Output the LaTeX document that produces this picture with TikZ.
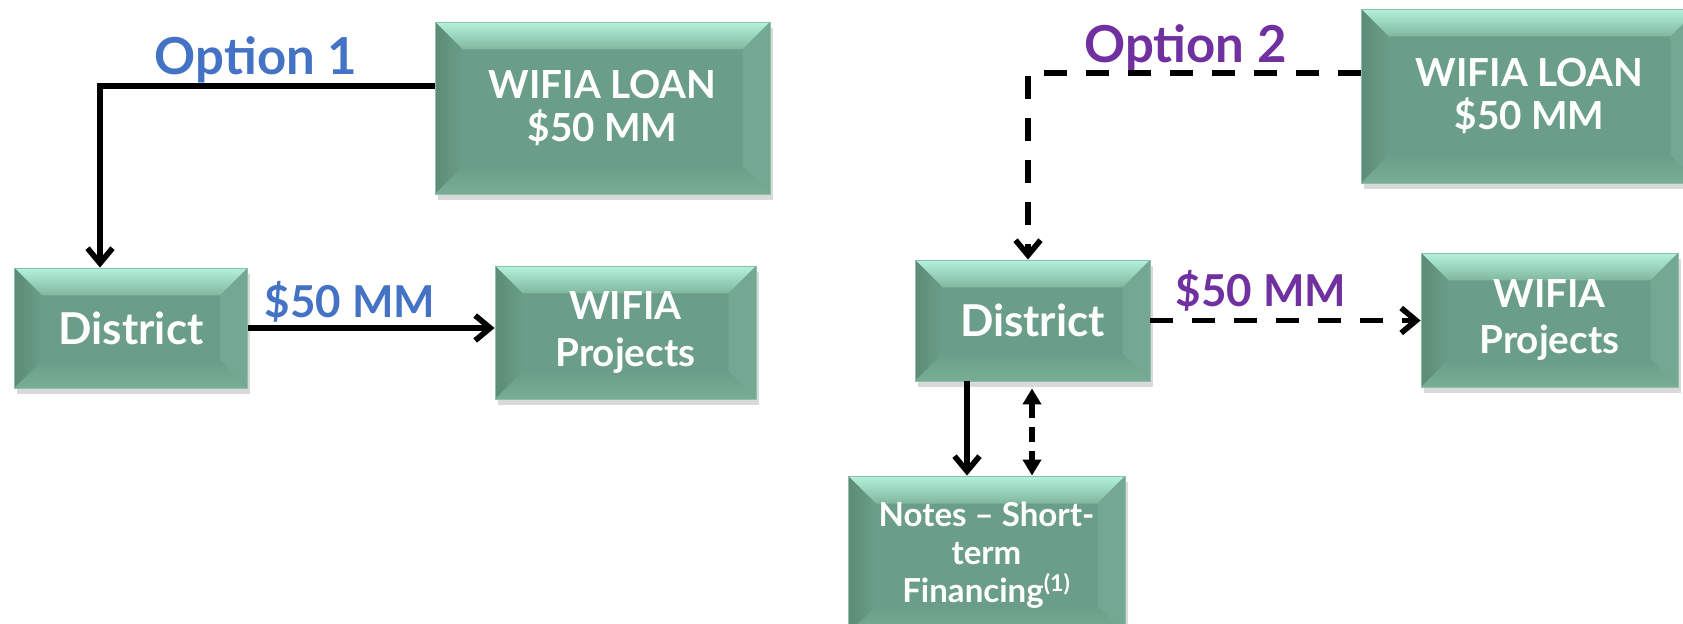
\documentclass[tikz,border=0pt]{standalone}
\usepackage{fontspec}
\setmainfont{Lato}
\usetikzlibrary{arrows.meta,shadows}

\definecolor{box-green}{HTML}{6A9E88}
\definecolor{box-edge}{HTML}{8FBFAA}
\definecolor{bevel-light}{HTML}{B4F2DC}
\definecolor{bevel-mid}{HTML}{80B69E}
\definecolor{bevel-dark}{HTML}{5C8B76}
\definecolor{bevel-right}{HTML}{74A892}
\definecolor{bevel-bottom}{HTML}{78AD96}
\definecolor{option-blue}{HTML}{4472C4}
\definecolor{option-purple}{HTML}{7030A0}

\newcommand{\bevel}{0.55cm}

\tikzset{
  bevel box/.style={rectangle, fill=box-green, draw=box-edge, line width=0.5pt,
    text=white, align=center, inner sep=0pt,
    drop shadow={shadow xshift=0.05cm, shadow yshift=-0.12cm, opacity=0.3},
    path picture={
      \path (path picture bounding box.north west) coordinate (bb-nw)
            (path picture bounding box.south east) coordinate (bb-se);
      \path (bb-nw) ++(\bevel,-\bevel) coordinate (in-nw);
      \path (bb-se) ++(-\bevel,\bevel) coordinate (in-se);
      \shade [top color=bevel-light, bottom color=bevel-mid]
        (bb-nw) -- (bb-nw -| bb-se) -- (in-nw -| in-se) -- (in-nw) -- cycle;
      \shade [left color=bevel-dark, right color=box-green]
        (bb-nw) -- (in-nw) -- (in-nw |- in-se) -- (bb-nw |- bb-se) -- cycle;
      \fill [bevel-right]
        (bb-nw -| bb-se) -- (bb-se) -- (in-se) -- (in-nw -| in-se) -- cycle;
      \shade [top color=box-green, bottom color=bevel-bottom]
        (bb-nw |- bb-se) -- (in-nw |- in-se) -- (in-se) -- (bb-se) -- cycle;
    }},
  loan text/.style={font=\bfseries\fontsize{22}{24}\selectfont},
  projects text/.style={font=\bfseries\fontsize{22}{26.5}\selectfont},
  district text/.style={font=\bfseries\fontsize{25}{28}\selectfont},
  notes text/.style={font=\bfseries\fontsize{18.8}{21.5}\selectfont},
  flow/.style={line width=3.2pt, -{Straight Barb[length=0.3cm, width=0.5cm]}},
  dashed flow/.style={flow, dash pattern=on 0.46cm off 0.38cm},
  two way/.style={line width=3.2pt, dash pattern=on 0.3cm off 0.18cm,
    {Triangle[length=0.32cm, width=0.36cm]}-{Triangle[length=0.32cm, width=0.36cm]}},
  option label/.style={anchor=base, font=\bfseries\fontsize{29}{32}\selectfont},
  amount label/.style={anchor=base, font=\bfseries\fontsize{25}{28}\selectfont}
}

\begin{document}
\begin{tikzpicture}

\useasboundingbox (0,0) rectangle (33.66,-12.48);

\coordinate (loan-1-label) at (12.05,-2.16);
\coordinate (district-1-label) at (2.62,-6.56);
\coordinate (projects-1-label) at (12.51,-6.65);
\coordinate (loan-2-label) at (30.59,-1.92);
\coordinate (district-2-label) at (20.65,-6.41);
\coordinate (projects-2-label) at (30.99,-6.4);
\coordinate (notes-label) at (19.73,-11.1);

\node [bevel box, loan text, minimum width=6.7cm, minimum height=3.44cm] (loan-1) at (loan-1-label)
  {WIFIA LOAN\\\$50 MM};
\node [bevel box, district text, minimum width=4.66cm, minimum height=2.4cm] (district-1) at (district-1-label)
  {District};
\node [bevel box, projects text, minimum width=5.22cm, minimum height=2.66cm] (projects-1) at (projects-1-label)
  {WIFIA\\Projects};
\node [bevel box, loan text, minimum width=6.74cm, minimum height=3.48cm] (loan-2) at (loan-2-label)
  {WIFIA LOAN\\\$50 MM};
\node [bevel box, district text, minimum width=4.7cm, minimum height=2.42cm] (district-2) at (district-2-label)
  {District};
\node [bevel box, projects text, minimum width=5.14cm, minimum height=2.68cm] (projects-2) at (projects-2-label)
  {WIFIA\\Projects};
\node [bevel box, notes text, minimum width=5.54cm, minimum height=3.16cm] (notes) at (notes-label)
  {Notes -- Short-\\term\\Financing\textsuperscript{(1)}};

\node [option label, text=option-blue] (option-1) at (5.12,-1.5) {Option 1};
\node [option label, text=option-purple] (option-2) at (23.71,-1.26) {Option 2};
\node [amount label, text=option-blue] (amount-1) at (7.0,-6.36) {\$50 MM};
\node [amount label, text=option-purple] (amount-2) at (25.22,-6.14) {\$50 MM};

\coordinate (bend-1) at (2.0,-1.72);
\coordinate (bend-2) at (20.56,-1.46);
\coordinate (notes-down) at (19.34,-8);
\coordinate (notes-up) at (20.64,-8);

\draw [flow] (bend-1 -| loan-1.west) -- (bend-1) -- (bend-1 |- district-1.north);
\draw [flow] (district-1.east) -- (district-1.east -| projects-1.west);
\draw [dashed flow] (bend-2 -| loan-2.west) -- (bend-2) -- (bend-2 |- district-2.north);
\draw [dashed flow] (district-2.east) -- (district-2.east -| projects-2.west);
\draw [flow] (notes-down |- district-2.south) -- (notes-down |- notes.north);
\draw [two way] ([yshift=-0.14cm]notes-up |- district-2.south) -- (notes-up |- notes.north);

\end{tikzpicture}
\end{document}
